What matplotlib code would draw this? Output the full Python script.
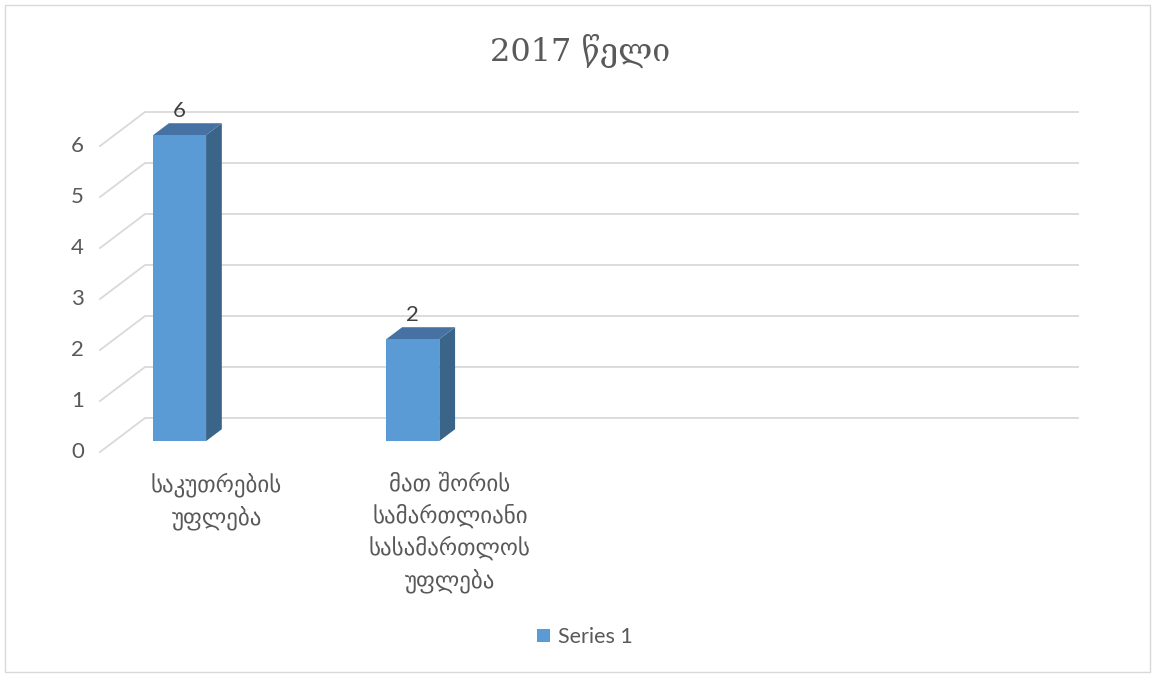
import numpy as np
import matplotlib
matplotlib.use("Agg")
from matplotlib import pyplot as plt
from matplotlib.patches import Polygon, Rectangle

# Data
categories = ["საკუთრების\nუფლება", "მათ შორის\nსამართლიანი\nსასამართლოს\nუფლება"]
values = [6, 2]
series_name = "Series 1"
title = "2017 წელი"
y_ticks = [0, 1, 2, 3, 4, 5, 6]

# Layout (oblique 3D look)
n_slots = 4          # category slots on the floor
depth_dx = 0.193     # back wall offset in category units
depth_dy = 0.667     # back wall offset in value units
bar_d0, bar_d1 = 0.32, 0.67
bar_left = 0.166
bar_width = 0.227

front_c = "#5b9bd5"
top_c = "#4672a3"
side_c = "#3a6589"
grid_c = "#d9d9d9"
text_c = "#595959"

fig = plt.figure(figsize=(11.55, 6.77), dpi=100)
ax = fig.add_axes([0, 0, 1, 1])
ax.set_xlim(-0.4287, 4.523)
ax.set_ylim(-4.412, 8.863)
ax.axis("off")

# chart border
fig.patches.append(Rectangle((5 / 1155, 5 / 677), 1145 / 1155, 667 / 677,
                             transform=fig.transFigure, fill=False,
                             edgecolor=grid_c, linewidth=1))

# left wall diagonals + back wall gridlines
for v in y_ticks:
    ax.plot([0, depth_dx, n_slots + depth_dx], [v, v + depth_dy, v + depth_dy],
            color=grid_c, linewidth=1.3, zorder=1)
    ax.text(-0.069, v, str(v), ha="right", va="center", fontsize=16,
            color=text_c, family=["Lato", "DejaVu Sans"])


def proj(x, y, d):
    return (x + d * depth_dx, y + d * depth_dy)


for i, v in enumerate(values):
    x0 = i + bar_left
    x1 = x0 + bar_width
    front = [proj(x0, 0, bar_d0), proj(x1, 0, bar_d0), proj(x1, v, bar_d0), proj(x0, v, bar_d0)]
    side = [proj(x1, 0, bar_d0), proj(x1, 0, bar_d1), proj(x1, v, bar_d1), proj(x1, v, bar_d0)]
    top = [proj(x0, v, bar_d0), proj(x1, v, bar_d0), proj(x1, v, bar_d1), proj(x0, v, bar_d1)]
    ax.add_patch(Polygon(side, closed=True, facecolor=side_c, edgecolor="none", zorder=3))
    ax.add_patch(Polygon(top, closed=True, facecolor=top_c, edgecolor="none", zorder=3))
    ax.add_patch(Polygon(front, closed=True, facecolor=front_c, edgecolor="none", zorder=4))
    cx, cy = proj((x0 + x1) / 2, v, bar_d0)
    ax.text(cx, v + 0.5, str(v), ha="center", va="bottom", fontsize=16,
            color="#404040", family=["Lato", "DejaVu Sans"])

# category labels
for i, lab in enumerate(categories):
    ax.text(i + 0.5, -0.4, lab, ha="center", va="top", fontsize=16.5,
            color=text_c, linespacing=1.42, family=["DejaVu Sans"])

# title
fig.text(580 / 1155, 1 - 52 / 677, title, ha="center", va="center", fontsize=23,
         color=text_c, family=["DejaVu Serif", "DejaVu Sans"])

# legend
handle = Rectangle((0, 0), 1, 1, facecolor=front_c, edgecolor="none")
fig.legend([handle], [series_name], loc="center", bbox_to_anchor=(585 / 1155, 1 - 637 / 677),
           frameon=False, handlelength=0.6, handleheight=0.6, handletextpad=0.4,
           prop={"family": ["Lato", "DejaVu Sans"], "size": 15.5}, labelcolor=text_c)

fig.savefig("out.png", dpi=100)
